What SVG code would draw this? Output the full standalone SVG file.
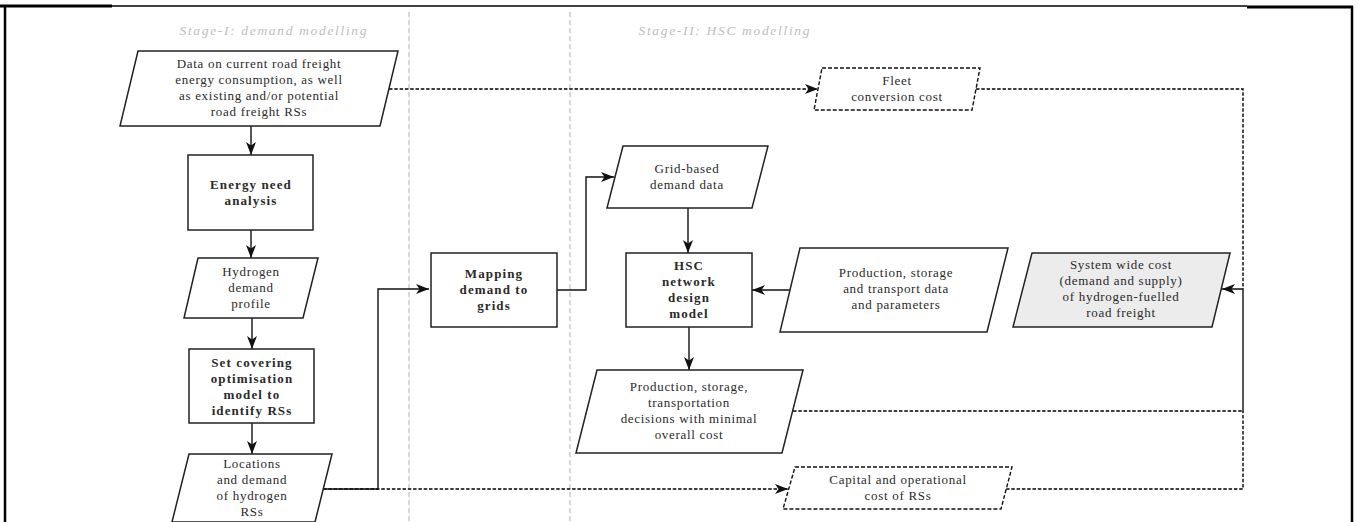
<svg xmlns="http://www.w3.org/2000/svg" width="1359" height="522" viewBox="0 0 1359 522">
<defs>
<style>
.t{font-family:"Liberation Serif","Times New Roman",serif;font-size:13px;letter-spacing:0.7px;fill:#2a2a2a;text-anchor:middle}
.b{font-weight:bold;letter-spacing:1.1px}
.stage{font-family:"Liberation Serif","Times New Roman",serif;font-style:italic;font-size:13.5px;fill:#bdbdbd;text-anchor:middle}
.node{fill:#fff;stroke:#222;stroke-width:1.5}
.dnode{fill:#fff;stroke:#111;stroke-width:1.4;stroke-dasharray:4 2}
.grey{fill:#ececec;stroke:#222;stroke-width:1.5}
.sep{stroke:#b0b0b0;stroke-width:1;stroke-dasharray:5 3;fill:none}
.c{fill:none;stroke:#111;stroke-width:1.4}
.cd{fill:none;stroke:#000;stroke-width:1.4;stroke-dasharray:3.5 1.8}
.frame{stroke:#000;fill:none}
</style>
<marker id="ah" viewBox="0 0 13 10" refX="13" refY="5" markerWidth="13" markerHeight="10" markerUnits="userSpaceOnUse" orient="auto">
<path d="M0,0 L13,5 L0,10 L3.5,5 z" fill="#111"/>
</marker>
</defs>
<rect x="0" y="0" width="1359" height="522" fill="#fff"/>
<g id="frame">
<line class="frame" x1="0" y1="6" x2="112" y2="6" stroke-width="3"/>
<line class="frame" x1="112" y1="6" x2="1247" y2="6" stroke-width="1.5"/>
<line class="frame" x1="1247" y1="7" x2="1353" y2="7" stroke-width="3"/>
<line class="frame" x1="5" y1="6" x2="5" y2="522" stroke-width="2.5"/>
<line class="frame" x1="1352" y1="6" x2="1352" y2="522" stroke-width="2.5"/>
</g>
<g id="separators">
<line class="sep" x1="409" y1="12" x2="409" y2="522"/>
<line class="sep" x1="570" y1="12" x2="570" y2="522"/>
<text class="stage" x="273" y="35" textLength="187" lengthAdjust="spacing">Stage-I: demand modelling</text>
<text class="stage" x="724" y="35" textLength="171" lengthAdjust="spacing">Stage-II: HSC modelling</text>
</g>
<g id="connectors">
<path class="c" d="M251,126 V155" marker-end="url(#ah)"/>
<path class="c" d="M251,230 V258" marker-end="url(#ah)"/>
<path class="c" d="M252,318 V349" marker-end="url(#ah)"/>
<path class="c" d="M252,423 V454" marker-end="url(#ah)"/>
<path class="cd" d="M323,489 H788" marker-end="url(#ah)"/>
<path class="c" d="M323,489 H378 V289 H429" marker-end="url(#ah)"/>
<path class="cd" d="M389,89 H818" marker-end="url(#ah)"/>
<path class="c" d="M557,290 H586 V177 H614" marker-end="url(#ah)"/>
<path class="c" d="M688,208 V253" marker-end="url(#ah)"/>
<path class="c" d="M790,290 H752" marker-end="url(#ah)"/>
<path class="c" d="M689,327 V370" marker-end="url(#ah)"/>
<path class="cd" d="M976,89 H1243 V289"/>
<path class="cd" d="M793,411 H1243"/>
<path class="cd" d="M1006,489 H1243 V411"/>
<path class="c" d="M1243,411 V289 H1222" marker-end="url(#ah)"/>
</g>
<g id="n-data">
<polygon class="node" points="138,51 398,51 380,126 120,126"/>
<text class="t" x="259" y="68">Data on current road freight</text>
<text class="t" x="259" y="84">energy consumption, as well</text>
<text class="t" x="259" y="100">as existing and/or potential</text>
<text class="t" x="259" y="116">road freight RSs</text>
</g>
<g id="n-energy">
<rect class="node" x="188" y="155" width="125" height="75"/>
<text class="t b" x="251" y="189">Energy need</text>
<text class="t b" x="251" y="205">analysis</text>
</g>
<g id="n-hydrogen">
<polygon class="node" points="198,258 318,258 303,318 184,318"/>
<text class="t" x="251" y="276">Hydrogen</text>
<text class="t" x="251" y="292">demand</text>
<text class="t" x="251" y="308">profile</text>
</g>
<g id="n-setcover">
<rect class="node" x="189" y="349" width="125" height="74"/>
<text class="t b" x="252" y="367">Set covering</text>
<text class="t b" x="252" y="383">optimisation</text>
<text class="t b" x="252" y="399">model to</text>
<text class="t b" x="252" y="415">identify RSs</text>
</g>
<g id="n-locations">
<polygon class="node" points="189,454 332,454 315,522 172,522"/>
<text class="t" x="252" y="468">Locations</text>
<text class="t" x="252" y="484">and demand</text>
<text class="t" x="252" y="500">of hydrogen</text>
<text class="t" x="252" y="516">RSs</text>
</g>
<g id="n-mapping">
<rect class="node" x="431" y="253" width="126" height="74"/>
<text class="t b" x="494" y="278">Mapping</text>
<text class="t b" x="494" y="294">demand to</text>
<text class="t b" x="494" y="310">grids</text>
</g>
<g id="n-grid">
<polygon class="node" points="623,146 768,146 752,208 607,208"/>
<text class="t" x="687" y="173">Grid-based</text>
<text class="t" x="687" y="189">demand data</text>
</g>
<g id="n-hsc">
<rect class="node" x="626" y="253" width="126" height="74"/>
<text class="t b" x="689" y="270">HSC</text>
<text class="t b" x="689" y="286">network</text>
<text class="t b" x="689" y="302">design</text>
<text class="t b" x="689" y="318">model</text>
</g>
<g id="n-proddata">
<polygon class="node" points="800,248 1008,248 987,332 780,332"/>
<text class="t" x="896" y="277">Production, storage</text>
<text class="t" x="896" y="293">and transport data</text>
<text class="t" x="896" y="309">and parameters</text>
</g>
<g id="n-decisions">
<polygon class="node" points="597,370 803,370 782,453 576,453"/>
<text class="t" x="689" y="391">Production, storage,</text>
<text class="t" x="689" y="407">transportation</text>
<text class="t" x="689" y="423">decisions with minimal</text>
<text class="t" x="689" y="439">overall cost</text>
</g>
<g id="n-fleet">
<polygon class="dnode" points="822,68 980,68 972,110 814,110"/>
<text class="t" x="897" y="85">Fleet</text>
<text class="t" x="897" y="101">conversion cost</text>
</g>
<g id="n-capital">
<polygon class="dnode" points="795,467 1012,467 1001,509 783,509"/>
<text class="t" x="898" y="484">Capital and operational</text>
<text class="t" x="898" y="500">cost of RSs</text>
</g>
<g id="n-system">
<polygon class="grey" points="1032,253 1230,253 1212,327 1013,327"/>
<text class="t" x="1121" y="269">System wide cost</text>
<text class="t" x="1121" y="285">(demand and supply)</text>
<text class="t" x="1121" y="301">of hydrogen-fuelled</text>
<text class="t" x="1121" y="317">road freight</text>
</g>
</svg>
